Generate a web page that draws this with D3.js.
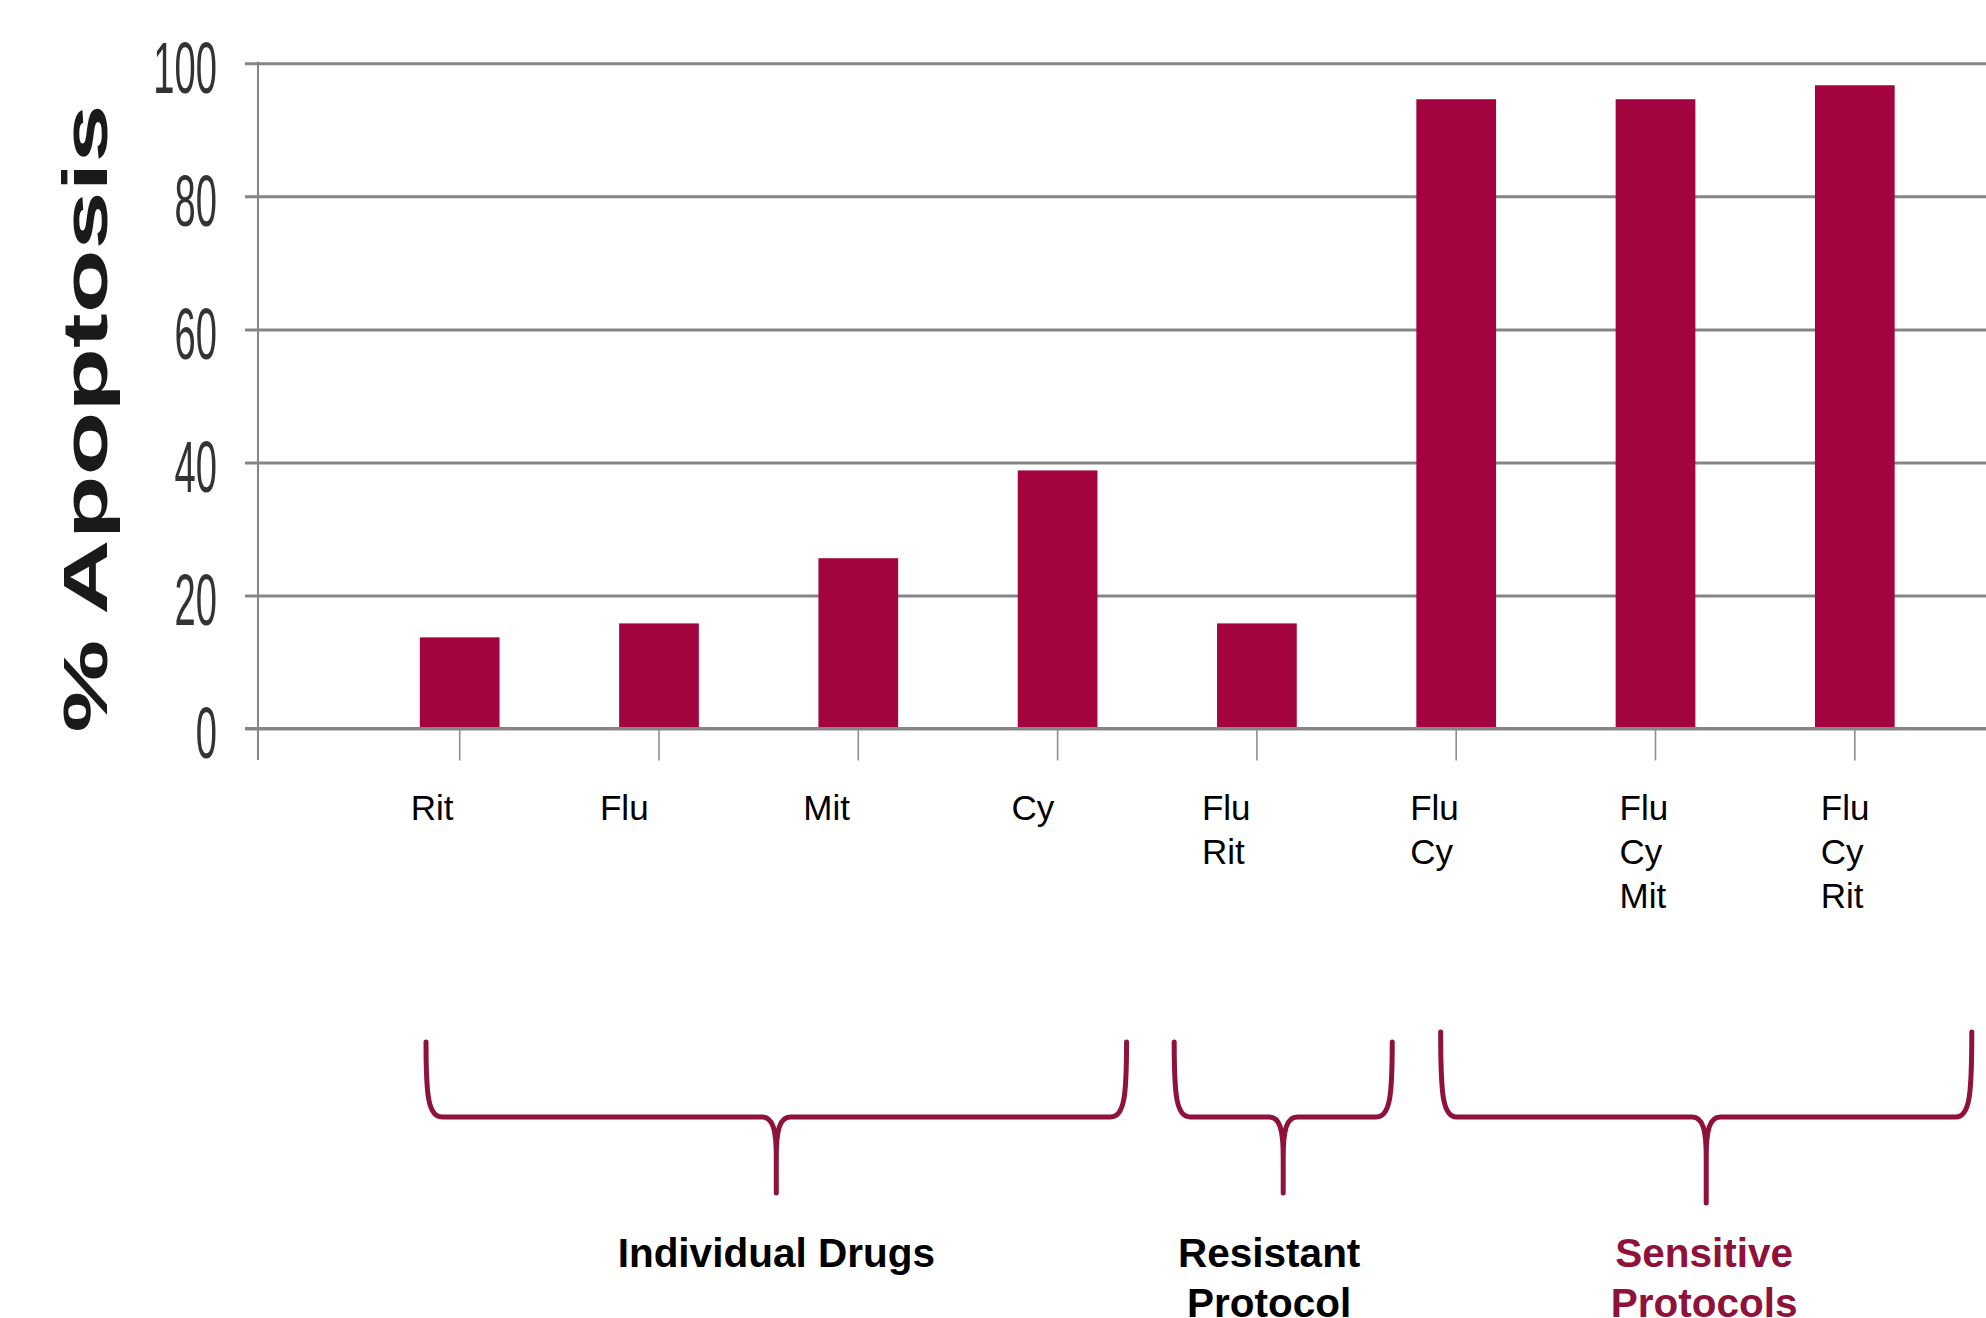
<!DOCTYPE html>
<html>
<head>
<meta charset="utf-8">
<script src="https://cdn.jsdelivr.net/npm/d3@7/dist/d3.min.js"></script>
<style>
  html, body { margin: 0; padding: 0; background: #ffffff; overflow: hidden; }
  svg { display: block; }
  text { font-family: "Liberation Sans", Arial, Helvetica, sans-serif; }
</style>
</head>
<body>
<script>
// ---------------- data ----------------
const categoryLines = [["Rit"], ["Flu"], ["Mit"], ["Cy"], ["Flu", "Rit"], ["Flu", "Cy"], ["Flu", "Cy", "Mit"], ["Flu", "Cy", "Rit"]];
const categories = categoryLines.map(d => d.join(" "));
const apoptosis = [13.7, 15.8, 25.6, 38.8, 15.8, 94.6, 94.6, 96.7];
const yTicks = [0, 20, 40, 60, 80, 100];
const yTitle = "% Apoptosis";
const groupLabels = [["Individual Drugs"], ["Resistant", "Protocol"], ["Sensitive", "Protocols"]];
const groupFrom = [0, 4, 5];
const groupTo = [3, 4, 7];

// ---------------- layout ----------------
const W = 1986, H = 1318;
const axisX = 258;
const labelNudge = [-49, -59, -55, -46, -55, -46, -36, -34];   // hand placement of category labels
const braceEnds = [[-0.169, 0.346], [-0.415, 0.679], [-0.078, 0.587]]; // in steps, relative to first/last band centre
const braceTop = [1042, 1042, 1032];
const braceTip = [1193, 1193, 1203];
const braceMidY = 1117;
const groupNudge = [0, -14, -2];
const groupColor = ["#000000", "#000000", "#8e1239"];
const barColor = "#a3043f";
const braceColor = "#8e1239";
const gridColor = "#858585";

const svg = d3.select("body").append("svg").attr("width", W).attr("height", H);

const x = d3.scaleBand()
  .domain(categories)
  .range([axisX, 2056.5])
  .paddingInner(0.6)
  .paddingOuter(0.812);

const y = d3.scaleLinear().domain([0, 100]).range([728.5, 63.3]);
const cx = c => x(c) + x.bandwidth() / 2;

// gridlines + y tick labels via axisLeft
const yAxis = svg.append("g")
  .attr("transform", `translate(${axisX},0)`)
  .call(d3.axisLeft(y).tickValues(yTicks).tickSize(13).tickFormat(d3.format("d")));
yAxis.select(".domain").remove();
yAxis.selectAll(".tick line")
  .attr("x1", -13).attr("x2", W - axisX)
  .attr("stroke", gridColor).attr("stroke-width", 3);
yAxis.selectAll(".tick text")
  .attr("x", 0).attr("dy", null)
  .attr("transform", "translate(-41,29) scale(0.53,1)")
  .attr("text-anchor", "end")
  .attr("fill", "#333")
  .attr("font-size", 72)
  .attr("font-family", "'Liberation Sans', Arial, sans-serif");

// vertical axis line
svg.append("line")
  .attr("x1", axisX).attr("x2", axisX)
  .attr("y1", y(100) - 1.5).attr("y2", 760)
  .attr("stroke", gridColor).attr("stroke-width", 2);

// x ticks via axisBottom
const xAxis = svg.append("g")
  .attr("transform", `translate(0,${y(0)})`)
  .call(d3.axisBottom(x).tickSize(32).tickFormat(""));
xAxis.select(".domain").remove();
xAxis.selectAll(".tick line").attr("stroke", "#8f8f8f").attr("stroke-width", 1.6);

// bars
svg.append("g").selectAll("rect")
  .data(categories)
  .join("rect")
  .attr("x", d => x(d))
  .attr("width", x.bandwidth())
  .attr("y", (d, i) => y(apoptosis[i]))
  .attr("height", (d, i) => y(0) - y(apoptosis[i]))
  .attr("fill", barColor);

// redraw baseline on top of bars
svg.append("line")
  .attr("x1", axisX - 13).attr("x2", W)
  .attr("y1", y(0)).attr("y2", y(0))
  .attr("stroke", gridColor).attr("stroke-width", 3);

// category labels (left-aligned lines)
categories.forEach((c, i) => {
  const t = svg.append("text")
    .attr("font-size", 35)
    .attr("fill", "#000");
  categoryLines[i].forEach((line, j) => {
    t.append("tspan")
      .attr("x", cx(c) + labelNudge[i])
      .attr("y", 820 + j * 44)
      .text(line);
  });
});

// y title
svg.append("text")
  .attr("transform", "translate(107,418.5) rotate(-90) scale(1.67,1)")
  .attr("text-anchor", "middle")
  .attr("font-size", 62.5)
  .attr("font-weight", "bold")
  .attr("fill", "#1a1a1a")
  .text(yTitle);

// braces + group labels
const step = x.step();
groupLabels.forEach((lines, g) => {
  const x0 = cx(categories[groupFrom[g]]) + braceEnds[g][0] * step;
  const x1 = cx(categories[groupTo[g]]) + braceEnds[g][1] * step;
  const mid = (x0 + x1) / 2;
  const top = braceTop[g], yH = braceMidY, tip = braceTip[g];
  const p = d3.path();
  p.moveTo(x0, top);
  p.bezierCurveTo(x0, yH - 22, x0 + 2, yH, x0 + 16, yH);
  p.lineTo(mid - 14, yH);
  p.bezierCurveTo(mid - 3, yH, mid, yH + 14, mid, yH + 40);
  p.lineTo(mid, tip);
  p.moveTo(mid, yH + 40);
  p.bezierCurveTo(mid, yH + 14, mid + 3, yH, mid + 14, yH);
  p.lineTo(x1 - 16, yH);
  p.bezierCurveTo(x1 - 2, yH, x1, yH - 22, x1, top);
  svg.append("path")
    .attr("d", p.toString())
    .attr("fill", "none")
    .attr("stroke", braceColor)
    .attr("stroke-width", 5)
    .attr("stroke-linecap", "round")
    .attr("stroke-linejoin", "round");

  const t = svg.append("text")
    .attr("text-anchor", "middle")
    .attr("font-size", 40.5)
    .attr("font-weight", "bold")
    .attr("fill", groupColor[g]);
  lines.forEach((line, j) => {
    t.append("tspan").attr("x", mid + groupNudge[g]).attr("y", 1267 + j * 50).text(line);
  });
});
</script>
</body>
</html>
